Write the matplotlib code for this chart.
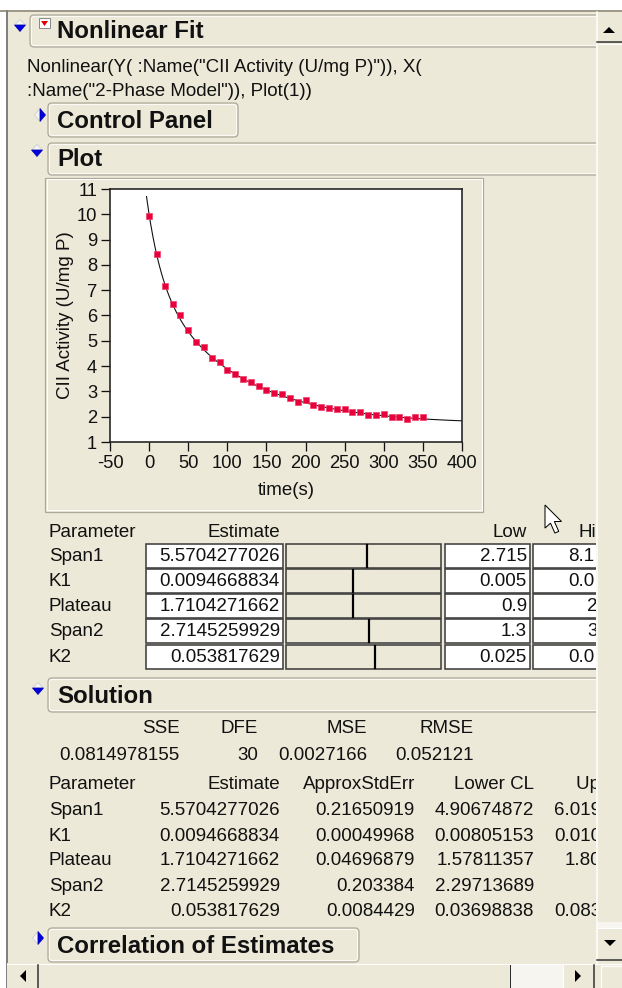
import numpy as np
import matplotlib
matplotlib.use("Agg")
import matplotlib.pyplot as plt
from matplotlib.patches import Rectangle, FancyBboxPatch, Polygon

plt.rcParams['font.family'] = ['Liberation Sans', 'DejaVu Sans']
plt.rcParams['axes.unicode_minus'] = False

# ---------------- data ----------------
time_s = [0, 10, 20, 30, 40, 50, 60, 70, 80, 90, 100, 110, 120, 130, 140, 150, 160, 170,
          180, 190, 200, 210, 220, 230, 240, 250, 260, 270, 280, 290, 300, 310, 320, 330, 340, 350]
activity = [9.93, 8.43, 7.18, 6.47, 6.02, 5.43, 4.96, 4.74, 4.31, 4.17, 3.85, 3.69, 3.48, 3.38,
            3.21, 3.06, 2.95, 2.88, 2.73, 2.57, 2.66, 2.46, 2.40, 2.33, 2.29, 2.29, 2.17, 2.20,
            2.07, 2.07, 2.09, 2.00, 1.98, 1.91, 1.98, 1.98]

param_names = ["Span1", "K1", "Plateau", "Span2", "K2"]
estimate_txt = ["5.5704277026", "0.0094668834", "1.7104271662", "2.7145259929", "0.053817629"]
estimate_val = [5.5704277026, 0.0094668834, 1.7104271662, 2.7145259929, 0.053817629]
low_txt = ["2.715", "0.005", "0.9", "1.3", "0.025"]
high_visible = ["8.1", "0.0", "2", "3", "0.0"]
slider_frac = [0.52, 0.435, 0.435, 0.535, 0.575]
stderr_txt = ["0.21650919", "0.00049968", "0.04696879", "0.203384", "0.0084429"]
lowercl_txt = ["4.90674872", "0.00805153", "1.57811357", "2.29713689", "0.03698838"]
uppercl_visible = ["6.019", "0.010", "1.80", "", "0.083"]
stat_names = ["SSE", "DFE", "MSE", "RMSE"]
stat_vals = ["0.0814978155", "30", "0.0027166", "0.052121"]

x_ticks = [-50, 0, 50, 100, 150, 200, 250, 300, 350, 400]
y_ticks = [1, 2, 3, 4, 5, 6, 7, 8, 9, 10, 11]
curve_start = -3.3

# ---------------- style ----------------
BG = '#ECE9D8'
BORDER = '#ACA899'
DARK = '#404040'
W, H = 622, 988
PX = 0.72  # points per pixel at 100 dpi
FS = 13.5
FS_TICK = 13.2
FS_HEAD = 17.3

fig = plt.figure(figsize=(W / 100, H / 100), dpi=100, facecolor=BG)
ui = fig.add_axes([0, 0, 1, 1], zorder=0)
ui.set_xlim(0, W)
ui.set_ylim(H, 0)
ui.axis('off')
ui.set_facecolor(BG)

def rect(x0, y0, x1, y1, fc='none', ec=BORDER, lw=1, z=1):
    ui.add_patch(Rectangle((x0, y0), x1 - x0, y1 - y0, facecolor=fc, edgecolor=ec,
                           linewidth=lw * PX, zorder=z))

def rbox(x0, y0, x1, y1, z=1):
    ui.add_patch(FancyBboxPatch((x0, y0), x1 - x0, y1 - y0,
                                boxstyle="round,pad=0,rounding_size=4",
                                facecolor=BG, edgecolor=BORDER, linewidth=1.2 * PX, zorder=z))
    ui.add_patch(FancyBboxPatch((x0 + 1.5, y0 + 1.5), x1 - x0 - 3, y1 - y0 - 3,
                                boxstyle="round,pad=0,rounding_size=3",
                                facecolor='none', edgecolor='white', linewidth=0.8 * PX, zorder=z))

def tri_open(cx, cy):
    ui.add_patch(Polygon([(cx - 5.5, cy - 1), (cx + 5.5, cy - 1), (cx, cy - 6.5)], closed=True,
                         facecolor='#F4F4F4', edgecolor='#C8C8C8', linewidth=0.5, zorder=3))
    ui.add_patch(Polygon([(cx - 5.5, cy - 1), (cx + 5.5, cy - 1), (cx, cy + 5.5)], closed=True,
                         facecolor='#0000E0', edgecolor='#0000B0', linewidth=0.5, zorder=3))

def tri_closed(cx, cy):
    ui.add_patch(Polygon([(cx, cy - 6.5), (cx, cy + 6.5), (cx - 5.5, cy)], closed=True,
                         facecolor='#F4F4F4', edgecolor='#C8C8C8', linewidth=0.5, zorder=3))
    ui.add_patch(Polygon([(cx, cy - 6.5), (cx, cy + 6.5), (cx + 5.5, cy)], closed=True,
                         facecolor='#0000E0', edgecolor='#0000B0', linewidth=0.5, zorder=3))

def txt(x, y, s, ha='left', size=FS, weight='normal', color='#111111', z=4):
    ui.text(x, y, s, ha=ha, va='center', fontsize=size, fontweight=weight, color=color, zorder=z)

# window frame
rect(0, 0, W, 10, fc='white', ec='none', z=0.5)
rect(0, 0, 6, H, fc='white', ec='none', z=0.5)
ui.plot([0, W], [11, 11], color='#9D9A8A', lw=2 * PX, zorder=1)
ui.plot([7, 7], [11, H], color='#808080', lw=2 * PX, zorder=1)

# ---- Nonlinear Fit header ----
rbox(30, 15, 610, 47)
tri_open(20, 26)
rect(39, 18, 50, 28, fc='white', ec='#8A8A8A', lw=1, z=3)
ui.add_patch(Polygon([(41, 21), (48, 21), (44.5, 26)], closed=True, facecolor='#E00000',
                     edgecolor='none', zorder=4))
txt(57, 32, "Nonlinear Fit", size=FS_HEAD, weight='bold')

txt(27, 68, 'Nonlinear(Y( :Name("CII Activity (U/mg P)")), X(')
txt(27, 92, ':Name("2-Phase Model")), Plot(1))')

# ---- Control Panel ----
rbox(48, 103, 238, 137)
tri_closed(40, 115)
txt(57, 121, "Control Panel", size=FS_HEAD, weight='bold')

# ---- Plot ----
rbox(48, 143, 610, 175)
tri_open(37, 151)
txt(57, 160, "Plot", size=FS_HEAD, weight='bold')

# plot frame
rect(45, 178, 483, 512, ec=BORDER, lw=1.2, z=1)
rect(46.5, 179.5, 481.5, 510.5, ec='white', lw=1, z=1)

# ---- the chart ----
ax_l, ax_r, ax_t, ax_b = 110, 462, 189, 442
ax = fig.add_axes([ax_l / W, 1 - ax_b / H, (ax_r - ax_l) / W, (ax_b - ax_t) / H], zorder=2)
ax.set_facecolor('white')
ax.set_xlim(x_ticks[0], x_ticks[-1])
ax.set_ylim(y_ticks[0], y_ticks[-1])
ax.set_xticks(x_ticks)
ax.set_yticks(y_ticks)
ax.tick_params(direction='out', length=9 * PX, width=1.3 * PX, labelsize=FS_TICK,
               pad=4 * PX, colors='#111111')
for sp in ax.spines.values():
    sp.set_linewidth(1.6 * PX)
    sp.set_color('#202020')

p = dict(zip(param_names, estimate_val))
t_curve = np.linspace(curve_start, x_ticks[-1], 600)
y_curve = (p["Span1"] * np.exp(-p["K1"] * t_curve) + p["Span2"] * np.exp(-p["K2"] * t_curve)
           + p["Plateau"])
ax.plot(t_curve, y_curve, color='#111111', lw=1.1 * PX, zorder=2)
ax.plot(time_s, activity, linestyle='none', marker='s', markersize=5.8 * PX,
        markerfacecolor='#E8003C', markeredgecolor='#F0406A', markeredgewidth=0.5, zorder=3)
ax.set_ylabel("CII Activity (U/mg P)", fontsize=FS, color='#111111')
ax.yaxis.set_label_coords((65 - ax_l) / (ax_r - ax_l), 0.5)
ax.set_xlabel("time(s)", fontsize=FS, color='#111111')
ax.xaxis.set_label_coords(0.5, -(490 - ax_b) / (ax_b - ax_t))
ax.xaxis.label.set_va('center')
ax.yaxis.label.set_va('center')

# ---- Parameter table (control) ----
txt(48, 532, "Parameter")
txt(280, 532, "Estimate", ha='right')
txt(527, 532, "Low", ha='right')
txt(578, 532, "High")
row_y = [556, 581, 606, 631, 657]
for i, name in enumerate(param_names):
    y = row_y[i]
    txt(49, y, name)
    rect(146, y - 12, 283, y + 12, fc='white', ec=DARK, lw=1.6, z=2)
    txt(280, y, estimate_txt[i], ha='right')
    rect(286, y - 12, 441, y + 12, fc=BG, ec=DARK, lw=1.6, z=2)
    sx = 286 + slider_frac[i] * (441 - 286)
    ui.plot([sx, sx], [y - 11, y + 11], color='black', lw=2.2 * PX, zorder=3)
    rect(445, y - 12, 530, y + 12, fc='white', ec=DARK, lw=1.6, z=2)
    txt(527, y, low_txt[i], ha='right')
    rect(533, y - 12, 640, y + 12, fc='white', ec=DARK, lw=1.6, z=2)
    hx = 568 if len(high_visible[i]) > 1 else 587
    txt(hx, y, high_visible[i])

# cursor
cur = np.array([(0, 0), (0, 21), (5, 16.5), (9, 25.5), (12.5, 24), (8.5, 15), (15, 15)]) * 1.1
cur[:, 0] += 545
cur[:, 1] += 505
ui.add_patch(Polygon(cur, closed=True, facecolor='white', edgecolor='black', lw=1 * PX, zorder=6))

# ---- Solution ----
rbox(48, 678, 610, 712)
tri_open(38, 689)
txt(57, 696, "Solution", size=FS_HEAD, weight='bold')

stat_right = [180, 258, 367, 474]
for i in range(4):
    txt(stat_right[i], 728, stat_names[i], ha='right')
    txt(stat_right[i], 755, stat_vals[i], ha='right')

txt(48, 784, "Parameter")
txt(280, 784, "Estimate", ha='right')
txt(415, 784, "ApproxStdErr", ha='right')
txt(534, 784, "Lower CL", ha='right')
txt(576, 784, "Upper CL")
sol_y = [810, 836, 860, 886, 911]
for i, name in enumerate(param_names):
    y = sol_y[i]
    txt(49, y, name)
    txt(280, y, estimate_txt[i], ha='right')
    txt(415, y, stderr_txt[i], ha='right')
    txt(534, y, lowercl_txt[i], ha='right')
    if uppercl_visible[i]:
        ux = 554 if len(uppercl_visible[i]) > 4 else 565
        txt(ux, y, uppercl_visible[i])

# ---- Correlation of Estimates ----
rbox(48, 928, 359, 962)
tri_closed(38, 938)
txt(57, 946, "Correlation of Estimates", size=FS_HEAD, weight='bold')

# ---- scrollbars ----
Z = 10
# vertical
rect(596, 12, W, 963, fc=BG, ec='none', z=Z)
ui.plot([597, 597], [12, 963], color='white', lw=1.5 * PX, zorder=Z + 1)
ui.plot([597, W], [42, 42], color='#303030', lw=1.5 * PX, zorder=Z + 1)
ui.add_patch(Polygon([(603, 33), (615, 33), (609, 27)], closed=True, fc='black', ec='none', zorder=Z + 2))
ui.plot([599, W], [44, 44], color='white', lw=1 * PX, zorder=Z + 1)
rect(598, 922, W + 2, 928, fc='#F6F5EF', ec='none', z=Z + 1)
ui.plot([597, W], [928, 928], color='white', lw=1 * PX, zorder=Z + 1)
ui.plot([597, W], [960, 960], color='#303030', lw=1.5 * PX, zorder=Z + 1)
ui.add_patch(Polygon([(604, 940), (616, 940), (610, 946)], closed=True, fc='black', ec='none', zorder=Z + 2))
# horizontal
rect(7, 963, W, H, fc=BG, ec='none', z=Z)
ui.plot([7, W], [963.5, 963.5], color='white', lw=1 * PX, zorder=Z + 1)
ui.add_patch(Polygon([(26, 970), (26, 982), (20, 976)], closed=True, fc='black', ec='none', zorder=Z + 2))
ui.plot([38, 38], [965, H], color='#303030', lw=1.5 * PX, zorder=Z + 1)
rect(510, 965, 563, H, fc='#F6F5EF', ec='none', z=Z + 1)
ui.plot([510, 510], [965, H], color='#303030', lw=1 * PX, zorder=Z + 1)
ui.plot([563, 563], [965, H], color='white', lw=1 * PX, zorder=Z + 1)
ui.add_patch(Polygon([(575, 970), (575, 982), (581, 976)], closed=True, fc='black', ec='none', zorder=Z + 2))
ui.plot([594, 594], [965, H], color='#303030', lw=1.5 * PX, zorder=Z + 1)
rect(601, 966, W + 2, H + 2, fc=BG, ec='white', lw=1.2, z=Z + 1)

fig.savefig("out.png", dpi=100, facecolor=BG)
